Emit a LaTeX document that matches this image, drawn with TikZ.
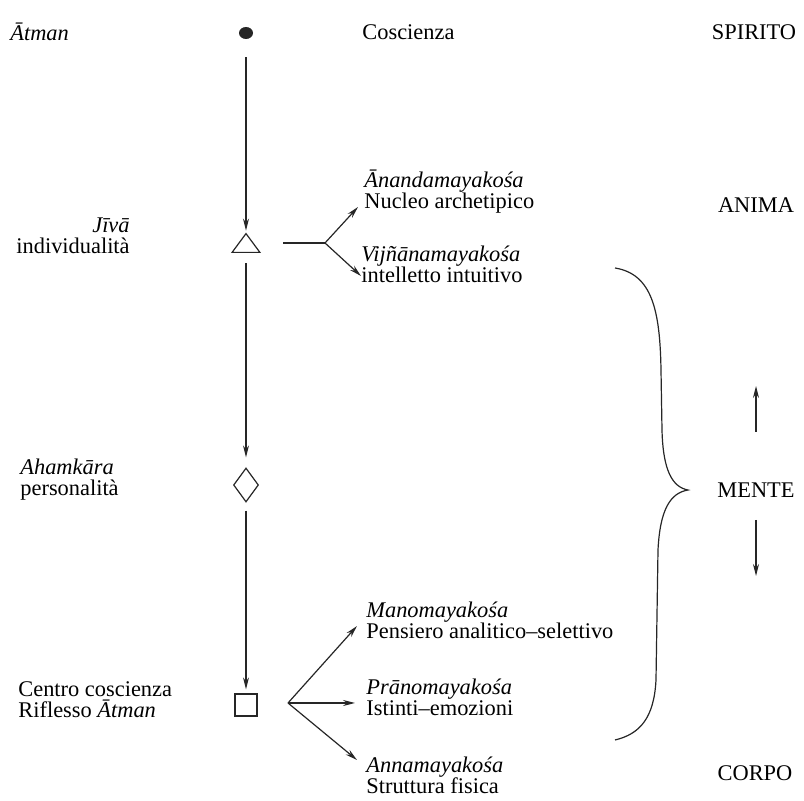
\documentclass[tikz,border=0pt]{standalone}
\usepackage{fontspec}
\setmainfont{Liberation Serif}
\usetikzlibrary{arrows.meta,shapes.geometric,positioning}

\begin{document}
\begin{tikzpicture}[x=0.5pt,y=-0.5pt,
  txt/.style={inner sep=0pt, align=left, font=\fontsize{11.2}{10.5}\selectfont},
  livello/.style={inner sep=0pt, font=\fontsize{11.2}{10.5}\selectfont},
  linea/.style={line width=0.6pt, draw=black!85},
  arr/.style={linea, -{Stealth[length=6pt,width=3pt]}}]
\useasboundingbox (0,0) rectangle (804,801);

% Simboli
\node[ellipse, fill=black!85, minimum width=7pt, minimum height=6pt, inner sep=0pt] (dot) at (246,33) {};
\node[minimum width=13.5pt, minimum height=9pt, inner sep=0pt] (tri) at (246,243) {};
\draw[linea] (tri.south west) -- (tri.south east) -- (tri.north) -- cycle;
\node[diamond, linea, minimum width=12.5pt, minimum height=17pt, inner sep=0pt] (diam) at (246,485) {};
\node[rectangle, linea, minimum size=11pt, inner sep=0pt] (sq) at (246,705) {};

% Etichette a sinistra
\node[txt, anchor=west] (atman) at (10,32) {\textit{Ātman}};
\node[txt, anchor=west, align=right] (jiva) at (16,236) {\textit{Jīvā}\\individualità};
\node[txt, anchor=west] (aham) at (20,480) {\textit{Ahamkāra}\\personalità};
\node[txt, anchor=west] (centro) at (18,700) {Centro coscienza\\Riflesso \textit{Ātman}};

% Etichette al centro
\node[txt, anchor=west] (cosc) at (362,32) {Coscienza};
\node[txt, anchor=west] (anan) at (364,192) {\textit{Ānandamayakośa}\\Nucleo archetipico};
\node[txt, anchor=west] (vijn) at (361,264) {\textit{Vijñānamayakośa}\\intelletto intuitivo};
\node[txt, anchor=west] (mano) at (366,620) {\textit{Manomayakośa}\\Pensiero analitico–selettivo};
\node[txt, anchor=west] (prano) at (366,697) {\textit{Prānomayakośa}\\Istinti–emozioni};
\node[txt, anchor=west] (anna) at (366,775) {\textit{Annamayakośa}\\Struttura fisica};

% Livelli
\node[livello] (spirito) at (754,32) {SPIRITO};
\node[livello] (anima) at (756,205) {ANIMA};
\node[livello] (mente) at (756,490) {MENTE};
\node[livello] (corpo) at (755,773) {CORPO};

% Frecce verticali
\draw[arr, shorten <=9pt, shorten >=1.5pt] (dot) -- (tri);
\draw[arr, shorten <=5.5pt, shorten >=5pt] (tri) -- (diam);
\draw[arr, shorten <=4pt, shorten >=2pt] (diam) -- (sq);

% Biforcazioni
\coordinate (f1) at (325,243);
\draw[linea, shorten <=11.75pt] (tri.east) -- (f1);
\draw[arr] (f1) -- ([shift={(-6,15)}]anan.west);
\draw[arr] (f1) -- ([shift={(0,12)}]vijn.west);
\coordinate (f2) at (288,703);
\draw[arr] (f2) -- ([shift={(-9,6)}]mano.west);
\draw[arr] (f2) -- ([shift={(-11,6)}]prano.west);
\draw[arr] (f2) -- ([shift={(-9,-15)}]anna.west);

% Graffa
\draw[linea] (615,268) .. controls (652,274) and (660,310) .. (661,370)
  -- (662,430) .. controls (663,470) and (672,487) .. (688,490)
  .. controls (670,493) and (660,510) .. (658,550)
  -- (656,680) .. controls (654,718) and (640,734) .. (615,740);

% Frecce di MENTE
\draw[arr] ([shift={(0,-58)}]mente.center) -- ++(0,-46);
\draw[arr] ([shift={(0,30)}]mente.center) -- ++(0,56);
\end{tikzpicture}
\end{document}
